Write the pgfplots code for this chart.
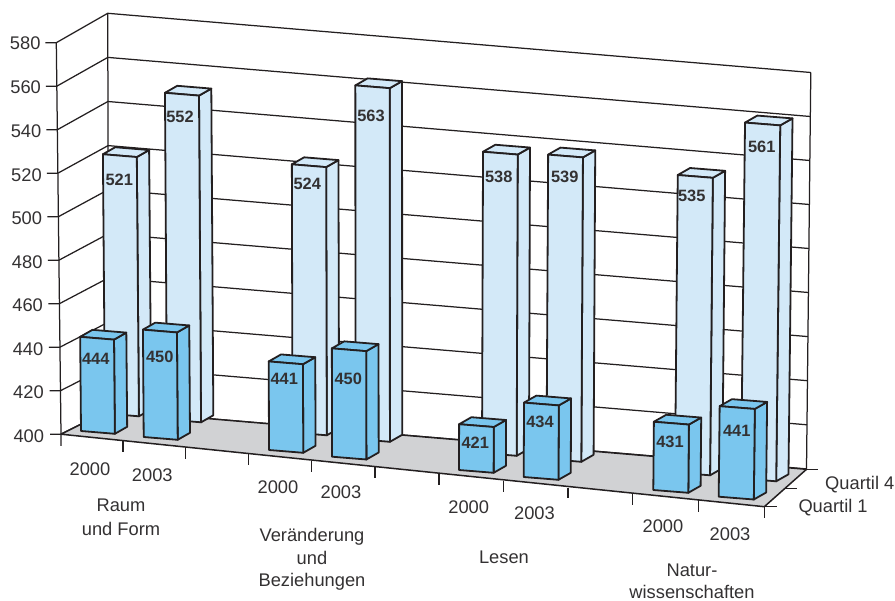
\documentclass[border=0pt]{standalone}
\usepackage{fontspec}
\setmainfont{Liberation Sans}
\usepackage{pgfplots}
\usepackage{pgfplotstable}
\pgfplotsset{compat=1.18}

\definecolor{ink}{HTML}{231F20}
\definecolor{txt}{HTML}{333132}
\definecolor{floorgray}{HTML}{D1D2D4}
\definecolor{barlight}{HTML}{D3E9F8}
\definecolor{bardark}{HTML}{7AC6EE}

% bx by = lower left corner of the bar's front face in picture pixels, lx ly = label
\pgfplotstableread{
bx    by    val lx    ly
105   413.5 521 119.3 180
167   419.5 552 180   117.3
292.5 432.5 524 307.3 184
355.5 439   563 371   115.7
482   453   538 498.7 177.3
546.5 459   539 564.7 177.3
675   472.5 535 691.7 195.7
741   478.5 561 761.7 146.7
}\quartilfour
\pgfplotstableread{
bx    by    val lx    ly
81    431   444 95.7  359
143.7 437   450 159.7 356.7
269   450   441 284.3 378.7
332   456.7 450 348.3 378.7
459   470   421 475.3 442.3
523.7 477   434 540   421.7
653.3 490   431 670   441.7
718.7 496.7 441 736.7 430.7
}\quartilone
% value axis: front edge, back left, back right
\pgfplotstableread{
v   fx   fy    bx    by    rx    ry    lx   ly
580 56.3 42.7  107.7 13.3  810.8 72.5  40.7 43
560 56.8 86.2  107.8 57.4  810.3 116.5 41.1 87
540 57.4 129.7 107.9 101.5 809.9 160.5 41.5 131
520 57.9 173.2 108.1 145.6 809.4 204.5 41.9 175
500 58.4 216.7 108.2 189.7 808.9 248.5 42.3 218
480 58.9 260.2 108.3 233.8 808.4 292.5 42.7 262
460 59.4 303.7 108.4 277.9 807.9 336.6 43.1 305
440 59.9 347.2 108.6 322   807.4 380.7 43.5 349
420 60.5 390.7 108.7 366.1 807   424.8 43.9 392
400 61   434.2 108.9 410.2 806.5 468.9 44.3 436
}\valueaxis
% 2000/2003 labels on the floor edge
\pgfplotstableread{
x     y     lab
90    469   2000
152.3 475   2003
278   487   2000
341   492   2003
468.7 507.7 2000
534.5 513.3 2003
663   526.5 2000
730   534   2003
}\yearlabels

\newcommand\drawbar[2]{%
  \pgfplotstablegetelem{#1}{bx}\of{#2}\let\bx\pgfplotsretval
  \pgfplotstablegetelem{#1}{by}\of{#2}\let\by\pgfplotsretval
  \pgfplotstablegetelem{#1}{val}\of{#2}\let\bv\pgfplotsretval
  % bars grow by about 2.17 px per point, a bit more to the right
  \pgfmathsetmacro\hh{(\bv-400)*(2.14+(\bx-80)*0.0001)}
  \pgfmathsetmacro\lean{\hh*((\bx-370)*0.000028)}
  \pgfmathsetmacro\ww{33.7+\bx*0.002}
  \pgfmathsetmacro\xa{\bx}
  \pgfmathsetmacro\xb{\bx+\ww}
  \pgfmathsetmacro\xc{\bx+\lean}
  \pgfmathsetmacro\xd{\bx+\ww+\lean}
  \pgfmathsetmacro\ya{\by}
  \pgfmathsetmacro\yb{\by+2.8}
  \pgfmathsetmacro\yc{\by-\hh}
  \pgfmathsetmacro\yd{\by+2.8-\hh}
  \pgfmathsetmacro\xe{\xb+12.3}
  \pgfmathsetmacro\xf{\xd+12.3}
  \pgfmathsetmacro\xg{\xc+12.3}
  \pgfmathsetmacro\ye{\yb-7}
  \pgfmathsetmacro\yf{\yd-7}
  \pgfmathsetmacro\yg{\yc-7}
}

\begin{document}
\begin{tikzpicture}
\begin{axis}[
  name=chart,
  scale only axis,
  width=895pt,
  height=601pt,
  xmin=0, xmax=895,
  ymin=0, ymax=601,
  y dir=reverse,
  hide axis,
  clip=false,
  unbounded coords=jump,
  every axis plot/.append style={line join=round},
  ]
  % back wall and left wall
  \pgfplotstablegetrowsof{\valueaxis}
  \pgfmathtruncatemacro\lastrow{\pgfplotsretval-1}
  \pgfplotsinvokeforeach{0,...,\lastrow}{
    \pgfplotstablegetelem{#1}{fx}\of{\valueaxis}\let\px\pgfplotsretval
    \pgfplotstablegetelem{#1}{fy}\of{\valueaxis}\let\py\pgfplotsretval
    \pgfplotstablegetelem{#1}{bx}\of{\valueaxis}\let\qx\pgfplotsretval
    \pgfplotstablegetelem{#1}{by}\of{\valueaxis}\let\qy\pgfplotsretval
    \pgfplotstablegetelem{#1}{rx}\of{\valueaxis}\let\rx\pgfplotsretval
    \pgfplotstablegetelem{#1}{ry}\of{\valueaxis}\let\ry\pgfplotsretval
    \pgfmathsetmacro\tx{\px-11}
    \addplot[draw=ink, line width=1.25pt] coordinates {(\tx,\py) (\px,\py) (\qx,\qy) (\rx,\ry)};
  }
  \addplot[draw=ink, line width=1.25pt] coordinates {
    (56.3,42.7) (61,434.2) (61,446) (nan,nan)
    (107.7,13.3) (108.9,410.2) (nan,nan)
    (810.8,72.5) (806.5,468.9)
  };
  % floor
  \addplot[draw=ink, fill=floorgray, line width=1.5pt] coordinates {
    (61,434.2) (108.9,410.2) (806.5,469.3) (764.3,506.7)
  } -- cycle;
  % ticks on the floor edges
  \addplot[draw=ink, line width=1.25pt] coordinates {
    (123,441) (123,452.3) (nan,nan)
    (185.7,447.5) (185.7,458.7) (nan,nan)
    (248.3,454.5) (248.3,465) (nan,nan)
    (311.7,461) (311.7,471.7) (nan,nan)
    (375,467.5) (375,478) (nan,nan)
    (439,474.5) (439,485) (nan,nan)
    (503.3,481) (503.3,491.7) (nan,nan)
    (568,488) (568,498.3) (nan,nan)
    (632.7,494.5) (632.7,505) (nan,nan)
    (698.3,500) (698.3,511.7) (nan,nan)
    (764.3,506.7) (764.3,518.3) (nan,nan)
    (764.3,506.7) (776.7,506.7) (nan,nan)
    (785,488.3) (796.7,488.3) (nan,nan)
    (806.5,469.3) (817.7,469.3)
  };
  % back row first, the front row stands before it
  \pgfplotsinvokeforeach{0,...,7}{
    \drawbar{#1}{\quartilfour}
    \addplot[draw=ink, fill=barlight, line width=1.8pt] coordinates {(\xb,\yb) (\xe,\ye) (\xf,\yf) (\xd,\yd)} -- cycle;
    \addplot[draw=ink, fill=barlight, line width=1.8pt] coordinates {(\xc,\yc) (\xd,\yd) (\xf,\yf) (\xg,\yg)} -- cycle;
    \addplot[draw=ink, fill=barlight, line width=1.8pt] coordinates {(\xa,\ya) (\xb,\yb) (\xd,\yd) (\xc,\yc)} -- cycle;
  }
  \pgfplotsinvokeforeach{0,...,7}{
    \drawbar{#1}{\quartilone}
    \addplot[draw=ink, fill=bardark, line width=1.8pt] coordinates {(\xb,\yb) (\xe,\ye) (\xf,\yf) (\xd,\yd)} -- cycle;
    \addplot[draw=ink, fill=bardark, line width=1.8pt] coordinates {(\xc,\yc) (\xd,\yd) (\xf,\yf) (\xg,\yg)} -- cycle;
    \addplot[draw=ink, fill=bardark, line width=1.8pt] coordinates {(\xa,\ya) (\xb,\yb) (\xd,\yd) (\xc,\yc)} -- cycle;
  }
  % value labels on the bars
  \pgfplotsset{
    barlabel/.style={
      only marks, mark=none, point meta=explicit symbolic,
      nodes near coords={\pgfplotspointmeta},
      nodes near coords align={center},
      nodes near coords style={anchor=center, inner sep=0pt, text=txt,
        font=\fontsize{16.4}{18}\selectfont\bfseries},
    },
    plainlabel/.style={
      only marks, mark=none, point meta=explicit symbolic,
      nodes near coords={\pgfplotspointmeta},
      nodes near coords align={center},
      nodes near coords style={anchor=#1, inner sep=0pt, text=txt,
        font=\fontsize{18.3}{20}\selectfont},
    },
  }
  \addplot[barlabel] table [x=lx, y=ly, meta=val] {\quartilfour};
  \addplot[barlabel] table [x=lx, y=ly, meta=val] {\quartilone};
  \addplot[plainlabel=east] table [x=lx, y=ly, meta=v] {\valueaxis};
  \addplot[plainlabel=center] table [x=x, y=y, meta=lab] {\yearlabels};

  \begin{scope}[every node/.style={align=center, text=txt, inner sep=0pt,
      font=\fontsize{18.3}{22.5}\selectfont}]
    \node at (axis cs:121,517.5) {Raum\\[1.5pt]und Form};
    \node at (axis cs:312,559.5) {Veränderung\\und\\Beziehungen};
    \node at (axis cs:504,557) {Lesen};
    \node at (axis cs:692,581.5) {Natur-\\wissenschaften};
    \node[anchor=west] at (axis cs:825,484.3) {Quartil 4};
    \node[anchor=west] at (axis cs:798.3,507.3) {Quartil 1};
  \end{scope}
\end{axis}
\pgfresetboundingbox
\path[use as bounding box] (chart.south west) rectangle (chart.north east);
\end{tikzpicture}
\end{document}
